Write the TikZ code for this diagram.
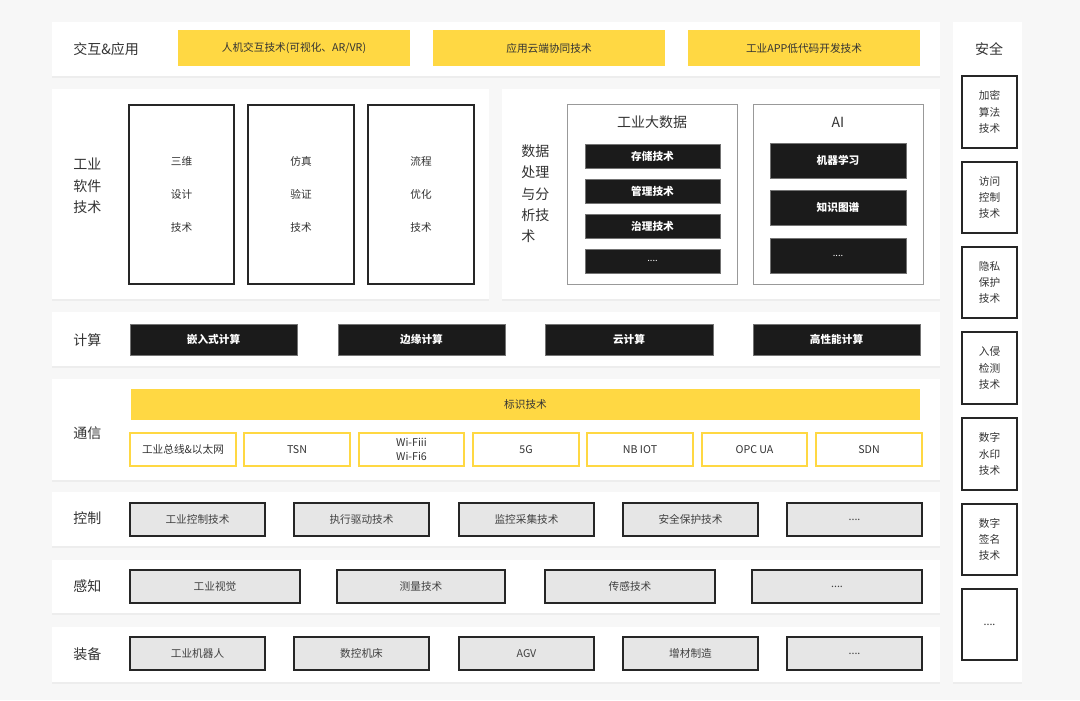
\documentclass[tikz,border=0pt]{standalone}
\usepackage{fontspec}
\setmainfont{Noto Sans CJK SC}
\definecolor{bgc}{HTML}{F7F7F7}
\definecolor{shd}{HTML}{EDEDED}
\definecolor{ylw}{HTML}{FFD843}
\definecolor{blk}{HTML}{1B1B1B}
\definecolor{gbox}{HTML}{E6E6E6}
\definecolor{txt}{HTML}{333333}
\newcommand\bx[7]{\node[#1, anchor=north west, inner sep=0pt, outer sep=0pt,
  minimum width={(#4-#2)*0.75pt}, minimum height={(#5-#3)*0.75pt}] (#6) at (#2,#3) {#7};}
\tikzset{
  panel/.style={fill=white, draw=none},
  lbl/.style={font=\fontsize{10.5}{16}\selectfont, text=txt, align=left, anchor=west, inner sep=0pt},
  ybox/.style={fill=ylw, draw=none, font=\fontsize{8}{10}\selectfont, text=txt},
  ybord/.style={fill=white, draw=ylw, line width=1.4pt, font=\fontsize{8}{10}\selectfont, text=txt, align=center},
  kbox/.style={fill=blk, draw=black!55, line width=0.6pt, font=\bfseries\fontsize{8}{10}\selectfont, text=white},
  kdots/.style={kbox, font=\fontsize{7}{10}\selectfont},
  gbx/.style={fill=gbox, draw=black!85, line width=1.1pt, font=\fontsize{8}{10}\selectfont, text=black!75},
  wbox/.style={fill=white, draw=black!85, line width=1.1pt, font=\fontsize{8}{10}\selectfont, text=txt, align=center},
  obox/.style={fill=white, draw=black!40, line width=0.7pt},
}
\begin{document}
\begin{tikzpicture}[x=0.75pt,y=-0.75pt]
\fill[bgc] (0,0) rectangle (1080,700);
\useasboundingbox (0,0) rectangle (1080,700);
% shadows
\foreach \a/\b/\c/\d in {52/22/940/76, 52/89/489/299, 502/89/940/299, 52/312/940/366, 52/379/940/480, 52/492/940/546, 52/560/940/613, 52/627/940/682, 953/22/1022/682}
  \fill[shd] (\a,\b+1.5) rectangle (\c,\d+2);
% ---------- row 1
\bx{panel}{52}{22}{940}{76}{p1}{}
\node[lbl] (l1) at (73,49) {交互\&应用};
\bx{ybox}{178}{30}{410}{66}{y1}{人机交互技术(可视化、AR/VR)}
\bx{ybox}{433}{30}{665}{66}{y2}{应用云端协同技术}
\bx{ybox}{688}{30}{920}{66}{y3}{工业APP低代码开发技术}
% ---------- software
\bx{panel}{52}{89}{489}{299}{p2}{}
\node[lbl] (l2) at (73,186) {工业\\软件\\技术};
\bx{wbox}{129}{105}{234}{284}{s1}{三维\\[15pt]设计\\[15pt]技术}
\bx{wbox}{248}{105}{354}{284}{s2}{仿真\\[15pt]验证\\[15pt]技术}
\bx{wbox}{368}{105}{474}{284}{s3}{流程\\[15pt]优化\\[15pt]技术}
% ---------- data
\bx{panel}{502}{89}{940}{299}{p3}{}
\node[lbl] (l3) at (521,194) {数据\\处理\\与分\\析技\\术};
\bx{obox}{567}{104}{737}{284}{bd}{}
\node[font=\fontsize{10.5}{12}\selectfont, text=txt] (bdt) at (652,122) {工业大数据};
\bx{kbox}{585}{144}{720}{168}{d1}{存储技术}
\bx{kbox}{585}{179}{720}{203}{d2}{管理技术}
\bx{kbox}{585}{214}{720}{238}{d3}{治理技术}
\bx{kdots}{585}{249}{720}{273}{d4}{....}
\bx{obox}{753}{104}{923}{284}{ai}{}
\node[font=\fontsize{10.5}{12}\selectfont, text=txt] (ait) at (838,122) {AI};
\bx{kbox}{770}{143}{906}{178}{a1}{机器学习}
\bx{kbox}{770}{190}{906}{225}{a2}{知识图谱}
\bx{kdots}{770}{238}{906}{273}{a3}{....}
% ---------- compute
\bx{panel}{52}{312}{940}{366}{p4}{}
\node[lbl] (l4) at (73,340) {计算};
\bx{kbox}{130}{324}{297}{355}{c1}{嵌入式计算}
\bx{kbox}{338}{324}{505}{355}{c2}{边缘计算}
\bx{kbox}{545}{324}{713}{355}{c3}{云计算}
\bx{kbox}{753}{324}{920}{355}{c4}{高性能计算}
% ---------- comm
\bx{panel}{52}{379}{940}{480}{p5}{}
\node[lbl] (l5) at (73,433) {通信};
\bx{ybox}{131}{389}{920}{420}{bs}{标识技术}
\bx{ybord}{130}{433}{236}{466}{n1}{工业总线\&以太网}
\bx{ybord}{244}{433}{350}{466}{n2}{TSN}
\bx{ybord}{359}{433}{464}{466}{n3}{Wi-Fiii\\Wi-Fi6}
\bx{ybord}{473}{433}{579}{466}{n4}{5G}
\bx{ybord}{587}{433}{693}{466}{n5}{NB IOT}
\bx{ybord}{702}{433}{807}{466}{n6}{OPC UA}
\bx{ybord}{816}{433}{922}{466}{n7}{SDN}
% ---------- control
\bx{panel}{52}{492}{940}{546}{p6}{}
\node[lbl] (l6) at (73,518) {控制};
\bx{gbx}{130}{503}{265}{536}{k1}{工业控制技术}
\bx{gbx}{294}{503}{429}{536}{k2}{执行驱动技术}
\bx{gbx}{459}{503}{594}{536}{k3}{监控采集技术}
\bx{gbx}{623}{503}{758}{536}{k4}{安全保护技术}
\bx{gbx}{787}{503}{922}{536}{k5}{....}
% ---------- sensing
\bx{panel}{52}{560}{940}{613}{p7}{}
\node[lbl] (l7) at (73,586) {感知};
\bx{gbx}{130}{570}{300}{603}{g1}{工业视觉}
\bx{gbx}{337}{570}{505}{603}{g2}{测量技术}
\bx{gbx}{545}{570}{715}{603}{g3}{传感技术}
\bx{gbx}{752}{570}{922}{603}{g4}{....}
% ---------- equipment
\bx{panel}{52}{627}{940}{682}{p8}{}
\node[lbl] (l8) at (73,654) {装备};
\bx{gbx}{130}{637}{265}{670}{e1}{工业机器人}
\bx{gbx}{294}{637}{429}{670}{e2}{数控机床}
\bx{gbx}{459}{637}{594}{670}{e3}{AGV}
\bx{gbx}{623}{637}{758}{670}{e4}{增材制造}
\bx{gbx}{787}{637}{922}{670}{e5}{....}
% ---------- security
\bx{panel}{953}{22}{1022}{682}{p9}{}
\node[font=\fontsize{10.5}{12}\selectfont, text=txt] (l9) at (989,49) {安全};
\tikzset{sbox/.style={wbox, font=\fontsize{8}{12.3}\selectfont}}
\bx{sbox}{962}{76}{1017}{148}{q1}{加密\\算法\\技术}
\bx{sbox}{962}{162}{1017}{233}{q2}{访问\\控制\\技术}
\bx{sbox}{962}{247}{1017}{318}{q3}{隐私\\保护\\技术}
\bx{sbox}{962}{332}{1017}{404}{q4}{入侵\\检测\\技术}
\bx{sbox}{962}{418}{1017}{490}{q5}{数字\\水印\\技术}
\bx{sbox}{962}{504}{1017}{575}{q6}{数字\\签名\\技术}
\bx{sbox}{962}{589}{1017}{660}{q7}{....}
\end{tikzpicture}
\end{document}
